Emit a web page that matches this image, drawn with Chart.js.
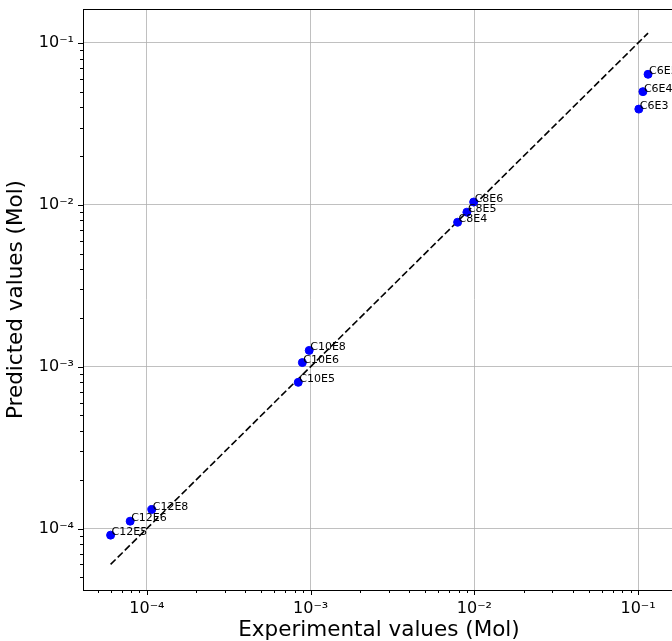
<!DOCTYPE html>
<html>
<head>
<meta charset="utf-8">
<script src="https://cdn.jsdelivr.net/npm/chart.js@4/dist/chart.umd.min.js"></script>
<style>
  html, body { margin: 0; padding: 0; background: #fff; overflow: hidden; }
  #wrap { width: 672px; height: 641px; overflow: hidden; }
</style>
</head>
<body>
<div id="wrap"><canvas id="myChart" width="700" height="641"></canvas></div>
<script>
// donnees
var noms = ['C6E5', 'C6E4', 'C6E3', 'C8E6', 'C8E5', 'C8E4', 'C10E8', 'C10E6', 'C10E5', 'C12E8', 'C12E6', 'C12E5'];
var experimental = [0.115, 0.107, 0.101, 0.0099, 0.0090, 0.0079, 0.00098, 0.00089, 0.00084, 0.000107, 0.000079, 0.00006];
var predicted = [0.064, 0.050, 0.039, 0.0104, 0.0090, 0.0078, 0.00126, 0.00106, 0.00080, 0.000131, 0.000111, 0.000091];
var diagonale = [0.00006, 0.115];
var tickExps = [-5, -4, -3, -2, -1, 0];
var tickTexts = ['10\u207B\u2075', '10\u207B\u2074', '10\u207B\u00B3', '10\u207B\u00B2', '10\u207B\u00B9', '10\u2070'];

var police = "'DejaVu Sans', sans-serif";

function pointsXY(xs, ys) {
    var res = [];
    for (var i = 0; i < xs.length; i++) {
        res.push({x: xs[i], y: ys[i]});
    }
    return res;
}

// ticks 1..9 x 10^n
function ticksLog(scale) {
    var t = [];
    for (var e = -6; e <= 0; e++) {
        for (var m = 1; m <= 9; m++) {
            var v = m * Math.pow(10, e);
            if (v >= scale.min && v <= scale.max) {
                t.push({value: v, major: m === 1});
            }
        }
    }
    scale.ticks = t;
}

function texteTick(value) {
    var e = Math.log10(value);
    var r = Math.round(e);
    if (Math.abs(e - r) > 1e-6) return '';
    var idx = tickExps.indexOf(r);
    return idx >= 0 ? tickTexts[idx] : '';
}

var couleurGrille = function (ctx) {
    return ctx.tick && ctx.tick.major ? '#b0b0b0' : 'rgba(0,0,0,0)';
};

// cadre, petits traits des axes, etiquettes des points
var extras = {
    id: 'extras',
    afterDraw: function (chart) {
        var ctx = chart.ctx;
        var a = chart.chartArea;
        ctx.save();
        ctx.strokeStyle = '#000';
        ctx.lineWidth = 1;
        ctx.strokeRect(Math.round(a.left) + 0.5, Math.round(a.top) + 0.5, Math.round(a.right - a.left), Math.round(a.bottom - a.top));
        var sx = chart.scales.x, sy = chart.scales.y;
        ctx.beginPath();
        sx.ticks.forEach(function (t) {
            var p = Math.round(sx.getPixelForValue(t.value)) + 0.5;
            var l = t.major ? 5 : 3;
            ctx.moveTo(p, a.bottom);
            ctx.lineTo(p, a.bottom + l);
        });
        sy.ticks.forEach(function (t) {
            var p = Math.round(sy.getPixelForValue(t.value)) + 0.5;
            var l = t.major ? 5 : 3;
            ctx.moveTo(a.left, p);
            ctx.lineTo(a.left - l, p);
        });
        ctx.stroke();
        ctx.restore();
    },
    afterDatasetsDraw: function (chart) {
        var ctx = chart.ctx;
        var meta = chart.getDatasetMeta(0);
        ctx.save();
        ctx.fillStyle = '#000';
        ctx.font = "11px " + police;
        ctx.textAlign = 'left';
        ctx.textBaseline = 'alphabetic';
        meta.data.forEach(function (pt, i) {
            ctx.fillText(noms[i], pt.x + 1, pt.y);
        });
        ctx.restore();
    }
};

var ctx = document.getElementById('myChart').getContext('2d');
var chart = new Chart(ctx, {
    type: 'scatter',
    data: {
        datasets: [{
            label: 'points',
            data: pointsXY(experimental, predicted),
            backgroundColor: '#0000ff',
            borderColor: '#0000ff',
            pointRadius: 4,
            pointHoverRadius: 4
        }, {
            label: 'y = x',
            data: pointsXY(diagonale, diagonale),
            showLine: true,
            borderColor: '#000',
            borderWidth: 1.6,
            borderDash: [7, 3],
            pointRadius: 0,
            fill: false
        }]
    },
    plugins: [extras],
    options: {
        responsive: false,
        animation: false,
        devicePixelRatio: 1,
        layout: { padding: { top: 9, right: 25, left: 0, bottom: 0 } },
        plugins: { legend: { display: false }, tooltip: { enabled: false } },
        scales: {
            x: {
                type: 'logarithmic',
                min: 4.07e-5,
                max: 0.168,
                afterBuildTicks: ticksLog,
                afterFit: function (s) { s.height = 51; s.paddingLeft = 0; s.paddingRight = 0; },
                grid: { color: couleurGrille, drawTicks: false, lineWidth: 0.8 },
                border: { display: false },
                ticks: {
                    autoSkip: false,
                    maxRotation: 0,
                    padding: 9,
                    color: '#000',
                    font: { family: police, size: 16 },
                    callback: function (v) { return texteTick(v); }
                },
                title: {
                    display: true,
                    text: 'Experimental values (Mol)',
                    color: '#000',
                    font: { family: police, size: 21.5, lineHeight: 1 },
                    padding: { top: 0, bottom: 0 }
                }
            },
            y: {
                type: 'logarithmic',
                min: 4.17e-5,
                max: 0.162,
                afterBuildTicks: ticksLog,
                afterFit: function (s) { s.width = 83; s.paddingTop = 0; s.paddingBottom = 0; },
                grid: { color: couleurGrille, drawTicks: false, lineWidth: 0.8 },
                border: { display: false },
                ticks: {
                    autoSkip: false,
                    padding: 9,
                    color: '#000',
                    font: { family: police, size: 16 },
                    callback: function (v) { return texteTick(v); }
                },
                title: {
                    display: true,
                    text: 'Predicted values (Mol)',
                    color: '#000',
                    font: { family: police, size: 21.5, lineHeight: 1 },
                    padding: { top: 6, bottom: 0 }
                }
            }
        }
    }
});
</script>
</body>
</html>
